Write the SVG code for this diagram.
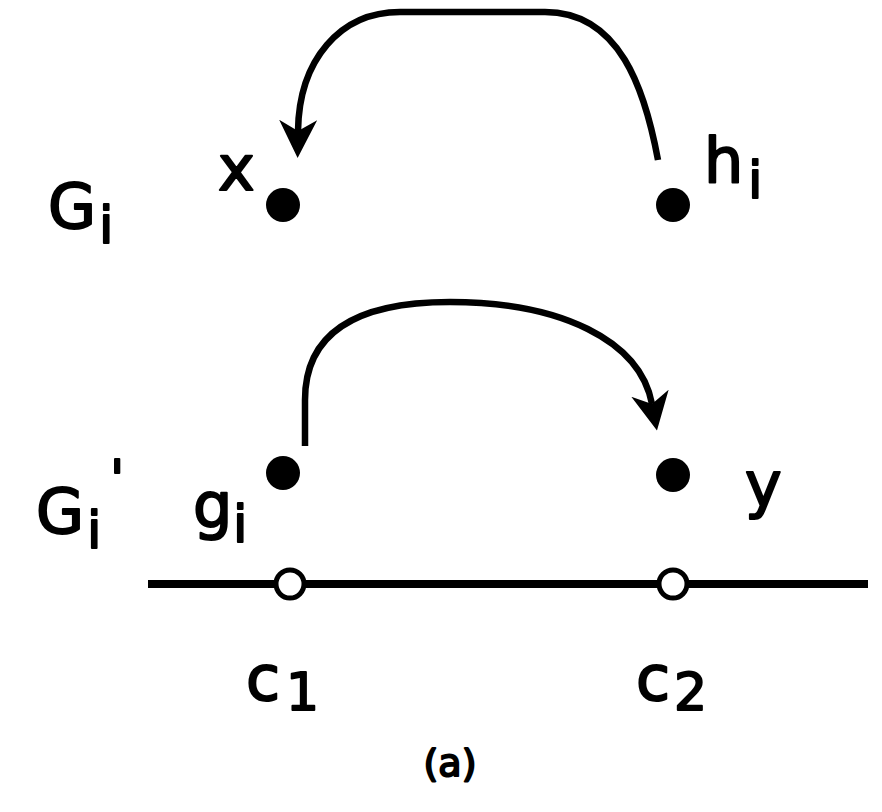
<svg xmlns="http://www.w3.org/2000/svg" width="882" height="812" viewBox="0 0 882 812">
<style>
.lbl{font-family:"DejaVu Sans","Noto Sans",sans-serif;font-weight:normal;fill:#000;stroke:#000;stroke-width:2;stroke-linejoin:round}
.big{font-size:62px}
.sub{font-size:52px}
.dot{fill:#000}
.open{fill:#fff;stroke:#000;stroke-width:5}
.conn{fill:none;stroke:#000;stroke-width:6.5}
</style>
<defs>
<marker id="ah" markerUnits="userSpaceOnUse" viewBox="0 -20 38 40" markerWidth="38" markerHeight="40" refX="11" refY="0" orient="auto">
<path d="M38,0 L0,-19 L11,0 L0,19 Z" fill="#000"/>
</marker>
</defs>
<rect width="882" height="812" fill="#fff"/>
<g id="baseline">
<line x1="148" y1="584" x2="868" y2="584" stroke="#000" stroke-width="8"/>
</g>
<g id="connectors">
<path class="conn" d="M658 160 C645 90 620 12 545 12 L400 12 C340 12 299 60 298 131" marker-end="url(#ah)"/>
<path class="conn" d="M305 446 L305 400 C305 330 360 302 450 302 C560 302 640 340 652 404" marker-end="url(#ah)"/>
</g>
<g id="node-x"><circle class="dot" cx="283" cy="205" r="17"/><text class="lbl big" x="218" y="190">x</text></g>
<g id="node-hi"><circle class="dot" cx="673" cy="205" r="17"/><text class="lbl big" x="704" y="182">h</text><text class="lbl sub" x="748" y="198">i</text></g>
<g id="node-gi"><circle class="dot" cx="283" cy="473" r="17"/><text class="lbl big" x="193" y="527">g</text><text class="lbl sub" x="233" y="542">i</text></g>
<g id="node-y"><circle class="dot" cx="673" cy="475" r="17"/><text class="lbl big" x="745" y="506">y</text></g>
<g id="node-c1"><circle class="open" cx="290" cy="584" r="14"/><text class="lbl big" x="246" y="700">c</text><text class="lbl sub" x="286" y="710">1</text></g>
<g id="node-c2"><circle class="open" cx="673" cy="584" r="14"/><text class="lbl big" x="636" y="700">c</text><text class="lbl sub" x="674" y="710">2</text></g>
<g id="label-Gi"><text class="lbl big" x="48" y="228">G</text><text class="lbl sub" x="99" y="243">i</text></g>
<g id="label-Gi2"><text class="lbl big" x="36" y="533">G</text><text class="lbl sub" x="87" y="548">i</text><text class="lbl sub" x="110" y="497">'</text></g>
<g id="caption"><text class="lbl" font-size="38" stroke-width="1" x="450" y="776" text-anchor="middle">(a)</text></g>
</svg>
